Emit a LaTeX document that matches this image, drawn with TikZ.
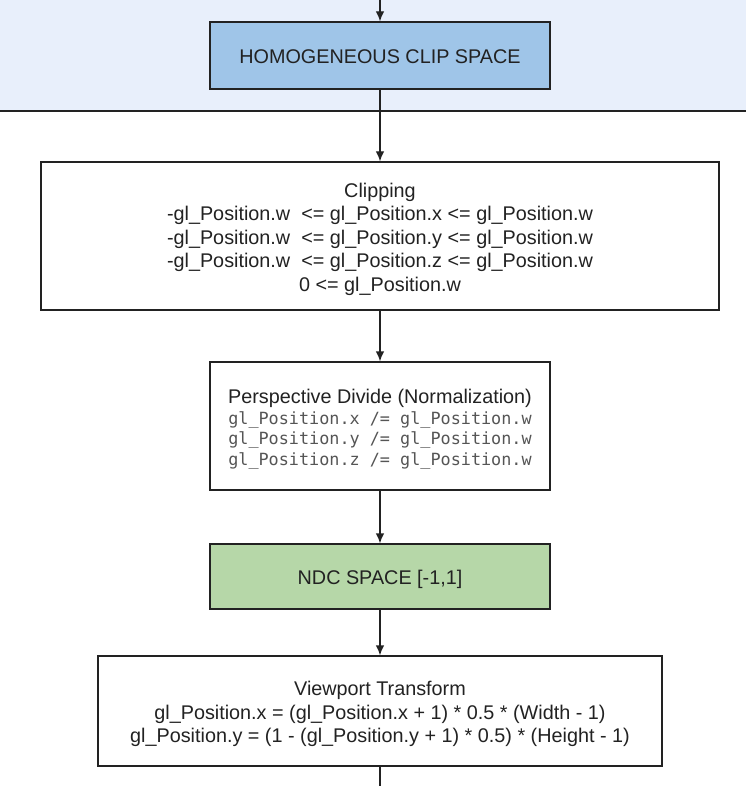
\documentclass[tikz,border=0pt]{standalone}
\usepackage{fontspec}
\setmainfont{Liberation Sans}
\setmonofont{DejaVu Sans Mono}
\usetikzlibrary{arrows.meta}
\definecolor{bandbg}{HTML}{E8EFFB}
\definecolor{clipblue}{HTML}{9FC5E8}
\definecolor{ndcgreen}{HTML}{B6D7A8}
\definecolor{edgegray}{HTML}{222222}
\definecolor{monogray}{HTML}{555555}
\newcommand{\codeline}[1]{{\fontsize{16.8}{20.6}\selectfont\ttfamily\color{monogray}#1}}
\begin{document}
\begin{tikzpicture}[x=1pt,y=-1pt,
  stage/.style={draw=edgegray,line width=1.3pt,inner sep=0pt},
  stagetext/.style={align=center,inner sep=0pt,text=edgegray,yshift=-3pt,
    font=\fontsize{19.8}{23.5}\selectfont},
  flow/.style={draw=edgegray,line width=1.3pt,-{Latex[length=10pt,width=8.5pt]}}]
\useasboundingbox (0,0) rectangle (746,786);
\fill[bandbg] (0,0) rectangle (746,111);
\draw[edgegray,line width=1.3pt] (0,111) -- (746,111);
\coordinate (top) at (380,0);
\coordinate (bottom) at (380,786);
\node[stage,fill=clipblue,minimum width=340,minimum height=67,
  label={[stagetext,yshift=2pt]center:HOMOGENEOUS CLIP SPACE}] (hcs) at (380,55.5) {};
\node[stage,fill=white,minimum width=678,minimum height=148,
  label={[stagetext]center:{Clipping\\-gl\_Position.w\ \ <= gl\_Position.x <= gl\_Position.w\\-gl\_Position.w\ \ <= gl\_Position.y <= gl\_Position.w\\-gl\_Position.w\ \ <= gl\_Position.z <= gl\_Position.w\\0 <= gl\_Position.w}}] (clip) at (380,236) {};
\node[stage,fill=white,minimum width=340,minimum height=128,
  label={[stagetext,yshift=-0.5pt]center:{Perspective Divide (Normalization)\\[-2.9pt]
   \codeline{gl\_Position.x /= gl\_Position.w}\\[-2.9pt]
   \codeline{gl\_Position.y /= gl\_Position.w}\\[-2.9pt]
   \codeline{gl\_Position.z /= gl\_Position.w}}}] (persp) at (380,426) {};
\node[stage,fill=ndcgreen,minimum width=340,minimum height=65,
  label={[stagetext]center:NDC SPACE [-1,1]}] (ndc) at (380,576.5) {};
\node[stage,fill=white,minimum width=564,minimum height=110,
  label={[stagetext]center:{Viewport Transform\\gl\_Position.x = (gl\_Position.x + 1) * 0.5 * (Width - 1)\\gl\_Position.y = (1 - (gl\_Position.y + 1) * 0.5) * (Height - 1)}}] (vp) at (380,711) {};
\draw[flow] (top) -- (hcs);
\draw[flow] (hcs) -- (clip);
\draw[flow] (clip) -- (persp);
\draw[flow] (persp) -- (ndc);
\draw[flow] (ndc) -- (vp);
\draw[draw=edgegray,line width=1.3pt] (vp) -- (bottom);
\end{tikzpicture}
\end{document}
